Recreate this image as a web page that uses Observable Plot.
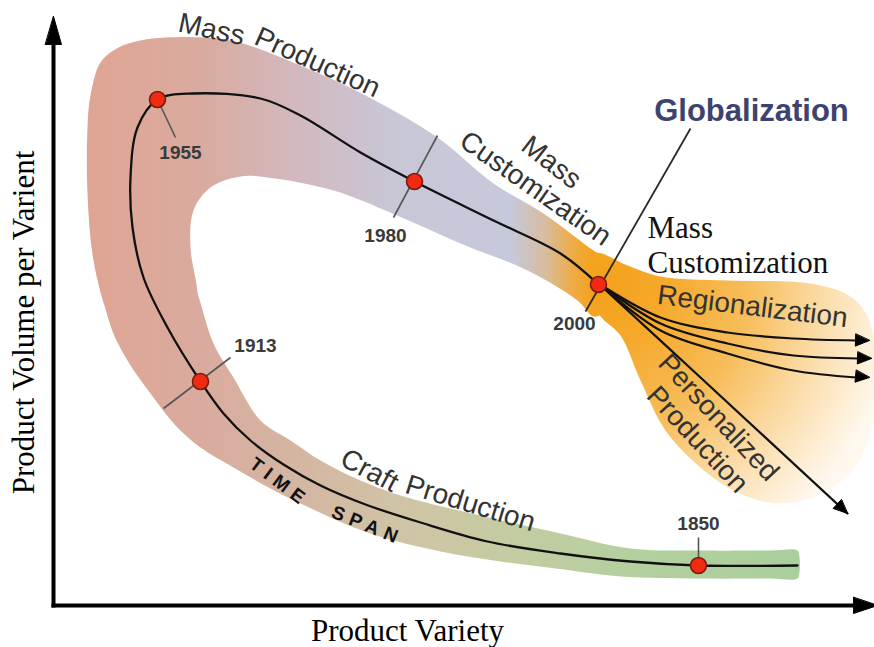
<!DOCTYPE html>
<html><head><meta charset="utf-8">
<script src="https://cdn.jsdelivr.net/npm/d3@7"></script>
<script src="https://cdn.jsdelivr.net/npm/@observablehq/plot@0.6"></script>
<style>html,body{margin:0;padding:0;background:#fff;} #chart{width:874px;height:647px;overflow:hidden}</style>
</head><body><div id="chart"></div>
<script>
// ---- Diagram space: product variety (x, left→right) × volume per variant (y, top=high) ----
// Time-span curve, from 1850 (right, low) back through 1913, 1955, 1980 to 2000
const curveX = [797,698,630,560,487,420,365,320,283,250,223,200,167,143,132,130,137,157,193,260,300,360,414,493,560,598];
const curveY = [565,565,561,553,541,522,504,485,464,440,413,381,327,277,227,177,127,99,93,98,115,152,181,220,253,284];

// Milestones
const years = ["1850","1913","1955","1980","2000"];
const yearX = [698,200,157,414,598];
const yearY = [565,381,99,181,284];
const yearLabelX = [698,255,180,385,574];
const yearLabelY = [523,345,152,235,323];
const tickFromX = [698,163,157,393];
const tickFromY = [537,408,99,217];
const tickToX = [698,230,175,437];
const tickToY = [565,357,137,135];
const globLineX = [690,585];
const globLineY = [128,311];

// Band (era ribbon) outlines
const lowerBandX = [150,106,110,127,150,175,200,233,270,300,367,440,500,563,620,700,770,797,799,799,797,770,700,630,560,480,400,360,320,290,260,233,213,197,185];
const lowerBandY = [255,295,325,360,393,425,447,467,488,503,532,551,561,569,576,578,578,578,571,557,550,550,550,548,533,515,495,480,460,440,420,377,343,293,262];
const upperBandX = [125,108,93,87,87,90,100,118,140,165,230,300,367,437,493,543,593,603,612,603,593,577,527,460,392,333,267,240,210,193,190,197,195,165];
const upperBandY = [345,316,260,193,127,95,62,47,40,37,40,65,96,137,183,213,250,256,285,312,316,300,270,243,213,190,177,176,187,210,247,293,315,345];
const blobX = [596,627,660,727,810,850,868,875,874,866,850,820,777,737,700,665,640,620,602,590,588];
const blobY = [253,265,276,280,283,296,318,360,410,445,472,494,503,492,467,430,380,335,318,300,270];

// Branches after 2000
const branchIds = ["r1","r2","r3","p"];
const branchX = [[598,660,727,793,856],[598,660,727,793,858],[598,660,727,793,856],[598,700,847]];
const branchY = [[283,317,332,338,340],[283,323,343,355,358],[283,330,353,370,377],[283,377,513]];
const branchTipX = [869,871,869,847];
const branchTipY = [340,358,377,513];

// Axes
const axisCorner = [53,605];
const yAxisTip = [53,16];
const xAxisTip = [877,605];

// Labels
const eraLabels = ["Mass","Production","Mass","Customization","Craft","Production","Regionalization","Personalized","Production"];
const eraLabelX = [211,317,551,535,369,470,752,718,697];
const eraLabelY = [29,62,162,188,470,503,306,417,439];
const eraLabelAngle = [12,24,38,35,28,17,7,47,47];
const spanLabels = ["TIME","SPAN"];
const spanLabelX = [279,367];
const spanLabelY = [482,525];
const spanLabelAngle = [37,22];

// ---- build tables ----
const pts = (xs, ys, id) => xs.map((x, i) => ({x, y: ys[i], id}));
const curve = pts(curveX, curveY, "t");
const lowerBand = pts(lowerBandX, lowerBandY, "lo");
const upperBand = pts(upperBandX, upperBandY, "up");
const blob = pts(blobX, blobY, "blob");
const milestones = years.map((yr, i) => ({yr, x: yearX[i], y: yearY[i], lx: yearLabelX[i], ly: yearLabelY[i]}));
const ticks = tickFromX.map((x1, i) => ({x1, y1: tickFromY[i], x2: tickToX[i], y2: tickToY[i]}));
const branches = branchIds.flatMap((id, i) => pts(branchX[i], branchY[i], id));

function head(tip, from, len, hw, id) {
  const dx = tip[0] - from[0], dy = tip[1] - from[1], d = Math.hypot(dx, dy);
  const ux = dx / d, uy = dy / d;
  const bx = tip[0] - ux * len, by = tip[1] - uy * len;
  return [{id, x: tip[0], y: tip[1]}, {id, x: bx - uy * hw, y: by + ux * hw}, {id, x: bx + uy * hw, y: by - ux * hw}];
}
const heads = [
  ...branchIds.flatMap((id, i) => head([branchTipX[i], branchTipY[i]], [branchX[i][branchX[i].length - 2], branchY[i][branchY[i].length - 2]], 14, 6, "h" + id)),
  ...head(yAxisTip, axisCorner, 28, 8, "hy"),
  ...head(xAxisTip, axisCorner, 24, 8, "hx")
];
const axisLines = [
  {x1: axisCorner[0], y1: axisCorner[1] + 2, x2: yAxisTip[0], y2: yAxisTip[1] + 26},
  {x1: axisCorner[0] - 2, y1: axisCorner[1], x2: xAxisTip[0] - 22, y2: xAxisTip[1]}
];
const eras = eraLabels.map((t, i) => ({t, x: eraLabelX[i], y: eraLabelY[i], a: eraLabelAngle[i]}));
const spans = spanLabels.map((t, i) => ({t, x: spanLabelX[i], y: spanLabelY[i], a: spanLabelAngle[i]}));

const SANS = "Liberation Sans, Arial, Helvetica, sans-serif";
const SERIF = "Liberation Serif, Times New Roman, serif";

const marks = [
  Plot.line(lowerBand, {x: "x", y: "y", fill: "url(#gLower)", stroke: "none", curve: "catmull-rom-closed"}),
  Plot.line(upperBand, {x: "x", y: "y", fill: "url(#gUpper)", stroke: "none", curve: "catmull-rom-closed"}),
  Plot.line(blob, {x: "x", y: "y", fill: "url(#gBlob)", stroke: "none", curve: "catmull-rom-closed"}),
  Plot.link(ticks, {x1: "x1", y1: "y1", x2: "x2", y2: "y2", stroke: "#555", strokeWidth: 1.6}),
  Plot.link([0], {x1: () => globLineX[0], y1: () => globLineY[0], x2: () => globLineX[1], y2: () => globLineY[1], stroke: "#2a2a2a", strokeWidth: 1.8}),
  Plot.line(curve, {x: "x", y: "y", stroke: "#111", strokeWidth: 2.3, curve: "catmull-rom"}),
  Plot.line(branches, {x: "x", y: "y", z: "id", stroke: "#111", strokeWidth: 2.2, curve: "catmull-rom"}),
  Plot.link(axisLines, {x1: "x1", y1: "y1", x2: "x2", y2: "y2", stroke: "#000", strokeWidth: 4}),
  Plot.line(heads, {x: "x", y: "y", z: "id", fill: "#000", stroke: "#000", strokeWidth: 1, curve: "linear-closed"}),
  Plot.dot(milestones, {x: "x", y: "y", r: 8, fill: "#f22a12", stroke: "#7a1c10", strokeWidth: 1.6}),
  Plot.text(milestones, {x: "lx", y: "ly", text: "yr", fontFamily: SANS, fontWeight: "bold", fontSize: 19, fill: "#3a3a3a", textAnchor: "middle", lineAnchor: "middle"}),
  ...eras.map(d => Plot.text([d], {x: "x", y: "y", text: "t", rotate: d.a, fontFamily: SANS, fontSize: 28, fill: "#333", textAnchor: "middle", lineAnchor: "middle"})),
  ...spans.map(d => Plot.text([d], {x: "x", y: "y", text: "t", rotate: d.a, fontFamily: SANS, fontWeight: "bold", fontSize: 19, fill: "#111", textAnchor: "middle", lineAnchor: "middle"})),
  Plot.text(["Globalization"], {x: () => 751, y: () => 120, text: d => d, fontFamily: SANS, fontWeight: "bold", fontSize: 31, fill: "#3d4270", textAnchor: "middle", lineAnchor: "bottom"}),
  Plot.text(["Mass", "Customization"], {x: () => 647, y: (d, i) => [237, 272][i], text: d => d, fontFamily: SERIF, fontSize: 31, fill: "#111", textAnchor: "start", lineAnchor: "bottom"}),
  Plot.text(["Product Variety"], {x: () => 407, y: () => 640, text: d => d, fontFamily: SERIF, fontSize: 31, fill: "#000", textAnchor: "middle", lineAnchor: "bottom"}),
  Plot.text(["Product Volume per Varient"], {x: () => 33, y: () => 322, text: d => d, rotate: -90, fontFamily: SERIF, fontSize: 31, fill: "#000", textAnchor: "middle", lineAnchor: "bottom"})
];

const svg = Plot.plot({
  width: 874, height: 647, margin: 0,
  x: {domain: [0, 874], range: [0, 874], axis: null},
  y: {domain: [0, 647], range: [0, 647], axis: null},
  style: {background: "#fff", overflow: "hidden"},
  marks
});

// gradients
const defs = d3.select(svg).insert("defs", ":first-child");
function lin(id, stops) {
  const g = defs.append("linearGradient").attr("id", id).attr("gradientUnits", "userSpaceOnUse")
    .attr("x1", 0).attr("y1", 0).attr("x2", 874).attr("y2", 0);
  stops.forEach(([px, c]) => g.append("stop").attr("offset", px / 874).attr("stop-color", c));
}
lin("gUpper", [[90, "#dfa594"], [200, "#d9ab9e"], [300, "#d2b9c0"], [400, "#c8c7d8"], [510, "#c6c9db"], [545, "#d8bc9e"], [575, "#efaa3e"], [590, "#f4a422"], [874, "#f5a623"]]);
lin("gLower", [[90, "#dfa594"], [200, "#d9ab9e"], [300, "#d4b6a2"], [400, "#d0c4a6"], [500, "#c6cba2"], [620, "#b5d0a0"], [800, "#a9cf9c"]]);
const rg = defs.append("radialGradient").attr("id", "gBlob").attr("gradientUnits", "userSpaceOnUse")
  .attr("cx", 598).attr("cy", 284).attr("r", 300);
[[0, "#f4a11a"], [0.2, "#f5a829"], [0.5, "#f7bd5a"], [0.75, "#fbdca8"], [1, "#fff8ee"]]
  .forEach(([o, c]) => rg.append("stop").attr("offset", o).attr("stop-color", c));

d3.select(svg).selectAll("text").filter(function() { return this.textContent === "TIME" || this.textContent === "SPAN"; })
  .attr("letter-spacing", 6);

document.getElementById("chart").appendChild(svg);
</script>
</body></html>
